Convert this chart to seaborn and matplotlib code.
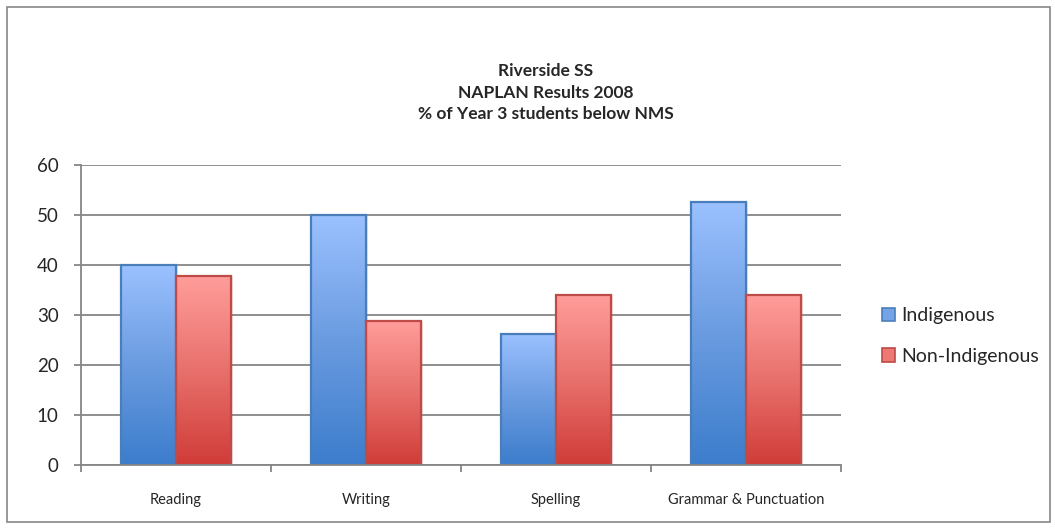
import numpy as np
import pandas as pd
import matplotlib
matplotlib.use("Agg")
import matplotlib.pyplot as plt
import seaborn as sns
from matplotlib.colors import LinearSegmentedColormap
from matplotlib.patches import Rectangle

categories = ["Reading", "Writing", "Spelling", "Grammar & Punctuation"]
indigenous = [40.0, 50.0, 26.3, 52.6]
non_indigenous = [37.8, 28.9, 34.0, 34.0]
series_names = ["Indigenous", "Non-Indigenous"]
title_lines = ["Riverside SS", "NAPLAN Results 2008", "% of Year 3 students below NMS"]
y_ticks = [0, 10, 20, 30, 40, 50, 60]

df = pd.DataFrame({
    "Category": categories * 2,
    "Group": [series_names[0]] * 4 + [series_names[1]] * 4,
    "Value": indigenous + non_indigenous,
})

sns.set_theme(style="white")
plt.rcParams["font.family"] = ["Lato", "DejaVu Sans"]

W, H = 1055, 529
fig = plt.figure(figsize=(W / 100, H / 100), dpi=100)
ax = fig.add_axes([81 / W, 1 - 465 / H, 760 / W, 300 / H])

palette = {"Indigenous": "#4a7ebb", "Non-Indigenous": "#be4b48"}
sns.barplot(data=df, x="Category", y="Value", hue="Group", palette=palette,
            width=0.58, ax=ax, legend=True, saturation=1)

ax.set_ylim(0, 60)
ax.set_xlim(-0.5, 3.5)
ax.set_yticks(y_ticks)
ax.set_yticklabels([str(t) for t in y_ticks], fontsize=13.5)
ax.yaxis.grid(True, color="#868686", linewidth=1.3)
ax.set_axisbelow(True)
ax.set_xlabel("")
ax.set_ylabel("")
ax.tick_params(axis="x", labelsize=10.5, length=0, pad=20)
ax.tick_params(axis="y", length=5, width=1.3, color="#868686", left=True, pad=11)
for s in ["top", "right"]:
    ax.spines[s].set_visible(False)
for s in ["left", "bottom"]:
    ax.spines[s].set_color("#868686")
    ax.spines[s].set_linewidth(1.3)
ax.set_xticks([-0.5, 0.5, 1.5, 2.5, 3.5], minor=True)
ax.tick_params(axis="x", which="minor", length=5, width=1.3, color="#868686", bottom=True)

cmaps = {
    "#4a7ebb": LinearSegmentedColormap.from_list("b", ["#3c7dcc", "#6a9be0", "#9bc1ff"]),
    "#be4b48": LinearSegmentedColormap.from_list("r", ["#d03c38", "#e8706c", "#ff9d9a"]),
}
grad = np.linspace(0, 1, 256).reshape(-1, 1)
for p in list(ax.patches):
    if p.get_height() <= 0:
        continue
    fc = matplotlib.colors.to_hex(p.get_facecolor())
    if fc not in cmaps:
        continue
    x0, y0 = p.get_x(), p.get_y()
    w, h = p.get_width(), p.get_height()
    im = ax.imshow(grad, cmap=cmaps[fc], aspect="auto", origin="lower",
                   extent=[x0, x0 + w, y0, y0 + h], zorder=p.get_zorder() + 0.1)
    im.set_clip_path(p)
    p.set_edgecolor(fc)
    edge = Rectangle((x0, y0), w, h, fill=False, edgecolor=fc, linewidth=1.6,
                     zorder=p.get_zorder() + 0.2)
    ax.add_patch(edge)

ax.set_xlim(-0.5, 3.5)
ax.set_ylim(0, 60)

leg = ax.legend(loc="center left", frameon=False, fontsize=14, handlelength=0.7,
                handleheight=0.7, handletextpad=0.3, labelspacing=1.2)
leg.set_bbox_to_anchor((864 / W, 1 - 336 / H), transform=fig.transFigure)
for h_, c in zip(leg.legend_handles, ["#4a7ebb", "#be4b48"]):
    h_.set_facecolor(cmaps[c](0.6))
    h_.set_edgecolor(c)
    h_.set_linewidth(1.2)

for i, line in enumerate(title_lines):
    fig.text(546 / W, 1 - (71 + 21.5 * i) / H, line, ha="center", va="center",
             fontsize=12.5, fontweight="bold")

fig.patches.append(Rectangle((7 / W, 7 / H), 1043 / W, 515 / H, transform=fig.transFigure,
                             fill=False, edgecolor="#868686", linewidth=1.2))

fig.savefig("out.png", dpi=100)
